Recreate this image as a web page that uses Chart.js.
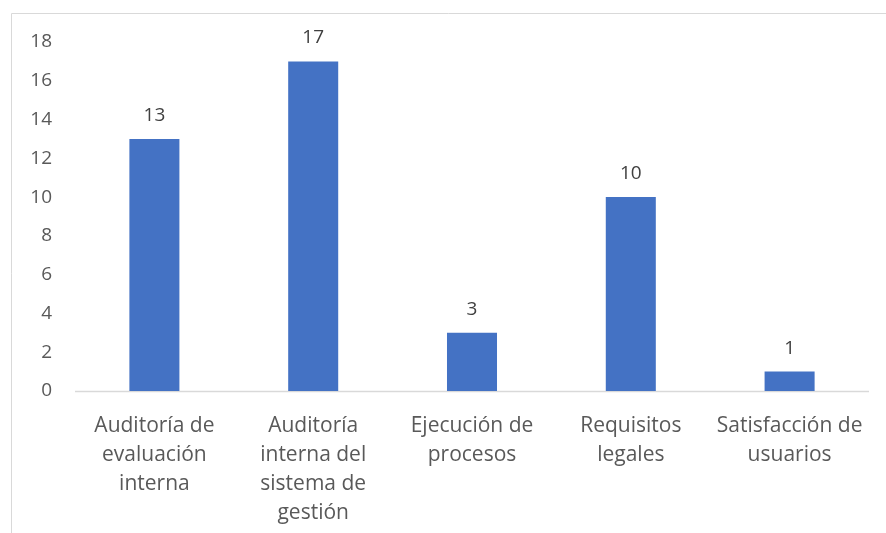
<!DOCTYPE html>
<html>
<head>
<meta charset="utf-8">
<script src="https://cdn.jsdelivr.net/npm/chart.js@4"></script>
<style>
  html, body { margin: 0; padding: 0; background: #fff; }
  #wrap { width: 886px; height: 533px; position: relative; }
</style>
</head>
<body>
<div id="wrap"><canvas id="chart" width="886" height="533"></canvas></div>
<script>
// Categories (already split into lines like the original)
const categories = [
  ["Auditoría de", "evaluación", "interna"],
  ["Auditoría", "interna del", "sistema de", "gestión"],
  ["Ejecución de", "procesos"],
  ["Requisitos", "legales"],
  ["Satisfacción de", "usuarios"]
];
const values = [13, 17, 3, 10, 1];
const yMin = 0;
const yMax = 18;
const yStep = 2;

const fontFamily = "'Open Sans', 'Liberation Sans', sans-serif";

// Light frame on the top and left side, plus the category axis line
const framePlugin = {
  id: "frame",
  beforeDraw(chart) {
    const ctx = chart.ctx;
    const area = chart.chartArea;
    const y0 = Math.round(chart.scales.y.getPixelForValue(0)) + 0.5;
    ctx.save();
    ctx.strokeStyle = "#d9d9d9";
    ctx.lineWidth = 1;
    ctx.beginPath();
    ctx.moveTo(11.5, 533);
    ctx.lineTo(11.5, 13.5);
    ctx.lineTo(886, 13.5);
    ctx.stroke();
    ctx.lineWidth = 1.5;
    ctx.beginPath();
    ctx.moveTo(area.left, y0);
    ctx.lineTo(area.right, y0);
    ctx.stroke();
    ctx.restore();
  }
};

// Value labels above each bar
const valueLabels = {
  id: "valueLabels",
  afterDatasetsDraw(chart) {
    const ctx = chart.ctx;
    const meta = chart.getDatasetMeta(0);
    ctx.save();
    ctx.fillStyle = "#404040";
    ctx.font = "19px " + fontFamily;
    ctx.textAlign = "center";
    ctx.textBaseline = "alphabetic";
    meta.data.forEach((bar, i) => {
      ctx.fillText(values[i], bar.x, bar.y - 18);
    });
    ctx.restore();
  }
};

new Chart(document.getElementById("chart").getContext("2d"), {
  type: "bar",
  data: {
    labels: categories,
    datasets: [{
      data: values,
      backgroundColor: "#4472C4",
      borderWidth: 0,
      barPercentage: 0.63,
      categoryPercentage: 0.5
    }]
  },
  options: {
    responsive: false,
    animation: false,
    layout: { padding: { left: 20, right: 17, top: 42, bottom: 0 } },
    plugins: {
      legend: { display: false },
      tooltip: { enabled: false }
    },
    scales: {
      y: {
        min: yMin,
        max: yMax,
        ticks: {
          stepSize: yStep,
          padding: 23,
          color: "#595959",
          font: { family: fontFamily, size: 19 }
        },
        grid: { display: false, drawTicks: false, tickLength: 0 },
        border: { display: false },
        afterFit: (scale) => { scale.width = 55; }
      },
      x: {
        ticks: {
          padding: 20,
          maxRotation: 0,
          autoSkip: false,
          color: "#595959",
          font: { family: fontFamily, size: 21, lineHeight: 1.39 }
        },
        grid: { display: false, drawTicks: false, tickLength: 0 },
        border: { display: false },
        afterFit: (scale) => { scale.height = 142; }
      }
    }
  },
  plugins: [framePlugin, valueLabels]
});
</script>
</body>
</html>
